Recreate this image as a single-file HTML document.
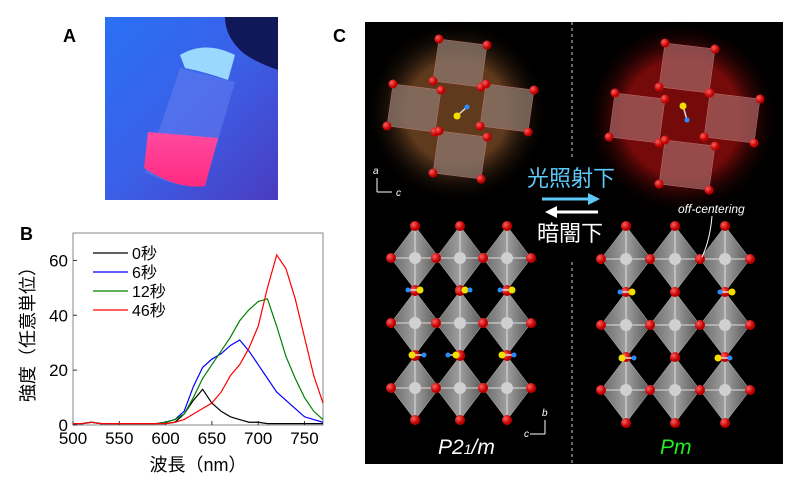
<!DOCTYPE html>
<html><head><meta charset="utf-8"><style>
body{margin:0;background:#fff;width:800px;height:491px;overflow:hidden;font-family:"Liberation Sans","Noto Sans CJK JP",sans-serif}
svg{position:absolute;left:0;top:0}
</style></head><body>
<svg width="800" height="491" viewBox="0 0 800 491">
<defs>
<linearGradient id="bg" x1="0" y1="0" x2="1" y2="1"><stop offset="0" stop-color="#2a70f5"/><stop offset="0.5" stop-color="#3a60e8"/><stop offset="1" stop-color="#4a3cc0"/></linearGradient>
<linearGradient id="liq" x1="0" y1="0" x2="0" y2="1"><stop offset="0" stop-color="#ff4aa0"/><stop offset="1" stop-color="#ff2a80"/></linearGradient>
<radialGradient id="glowO"><stop offset="0.55" stop-color="#6a4020" stop-opacity="0.9"/><stop offset="1" stop-color="#000" stop-opacity="0"/></radialGradient>
<radialGradient id="glowR"><stop offset="0.6" stop-color="#7a0a0a" stop-opacity="0.95"/><stop offset="1" stop-color="#000" stop-opacity="0"/></radialGradient>
<radialGradient id="ball" cx="0.35" cy="0.35"><stop offset="0" stop-color="#ff6060"/><stop offset="1" stop-color="#c00000"/></radialGradient>
<linearGradient id="octg" x1="0" y1="0" x2="1" y2="0"><stop offset="0" stop-color="#6e6e6e"/><stop offset="0.5" stop-color="#a8a8a8"/><stop offset="1" stop-color="#5a5a5a"/></linearGradient>
</defs>

<!-- Panel A -->
<text x="63" y="42" font-size="18" font-weight="bold">A</text>
<g>
<rect x="105" y="17" width="173" height="183" fill="url(#bg)"/>
<path d="M225 17 L278 17 L278 70 Q250 60 240 50 Q225 35 225 17Z" fill="#10185a"/>
<path d="M180 55 Q205 40 235 55 L228 80 Q205 72 185 68Z" fill="#9ad8ff"/>
<path d="M180 68 L235 82 L205 185 Q180 190 145 172 Z" fill="#6a80f0" opacity="0.5"/>
<path d="M148 132 L218 138 L205 186 Q178 190 144 168 Z" fill="url(#liq)"/>
</g>

<!-- Panel B -->
<text x="20" y="240" font-size="18" font-weight="bold">B</text>
<g id="chart"></g>

<!-- Panel C -->
<text x="333" y="42" font-size="18" font-weight="bold">C</text>
<rect x="365" y="22" width="418" height="442" fill="#000"/>
<line x1="572" y1="22" x2="572" y2="160" stroke="#ccc" stroke-dasharray="3,3"/>
<line x1="572" y1="262" x2="572" y2="464" stroke="#ccc" stroke-dasharray="3,3"/>
<circle cx="457" cy="112" r="92" fill="url(#glowO)"/>
<circle cx="682" cy="118" r="98" fill="url(#glowR)"/>
<g id="struct"></g>
<text x="527" y="186" font-size="22" fill="#5ec8f8">光照射下</text>
<path d="M542 199 L590 199" stroke="#5ec8f8" stroke-width="3"/><path d="M588 193 L600 199 L588 205Z" fill="#5ec8f8"/>
<path d="M555 212 L598 212" stroke="#fff" stroke-width="3"/><path d="M557 206 L545 212 L557 218Z" fill="#fff"/>
<text x="537" y="241" font-size="22" fill="#fff">暗闇下</text>
<text x="678" y="213" font-size="12" font-style="italic" fill="#fff">off-centering</text>
<path d="M712 216 Q710 240 702 257" stroke="#fff" fill="none"/>
<text x="438" y="454" font-size="21" font-style="italic" fill="#fff">P2<tspan font-size="14">1</tspan>/m</text>
<text x="660" y="454" font-size="21" font-style="italic" fill="#22ee22">Pm</text>
<g fill="#fff" font-size="10" font-style="italic">
<text x="373" y="174">a</text><text x="396" y="196">c</text><path d="M377 192 L377 178 M377 192 L392 192" stroke="#fff"/>
<text x="542" y="416">b</text><text x="524" y="437">c</text><path d="M545 434 L545 420 M545 434 L530 434" stroke="#fff"/>
</g>
</svg>
<script>
const wavelengths=[500,510,520,530,540,550,560,570,580,590,600,610,620,630,640,650,660,670,680,690,700,710,720,730,740,750,760,770];
const s0=[0.5,0.5,1,0.5,0.5,0.5,0.5,0.5,0.5,0.5,0.5,1,4,9,13,8,5,3,2,1,1,0.5,0.5,0.5,0.5,0.5,0.5,0.5];
const s6=[0.5,0.5,1,0.5,0.5,0.5,0.5,0.5,0.5,0.5,1,2,5,14,21,24,26,29,31,27,22,17,12,9,6,3,2,1];
const s12=[0.5,0.5,1,0.5,0.5,0.5,0.5,0.5,0.5,0.5,1,2,4,10,17,22,27,32,38,42,45,46,36,25,17,10,5,2];
const s46=[0.5,0.5,1,0.5,0.5,0.5,0.5,0.5,0.5,0.5,0.5,1,2,4,6,8,12,18,22,28,36,50,62,57,46,32,18,8];
const xTicks=[500,550,600,650,700,750];
const yTicks=[0,20,40,60];
const seriesNames=["0秒","6秒","12秒","46秒"];
const colors=["#000","#0000ff","#008000","#ff0000"];
const NS="http://www.w3.org/2000/svg";
const L=73,R=323,T=233,B=425;
const xs=v=>L+(v-500)/(770-500)*(R-L);
const ys=v=>B-v/70*(B-T);
const g=document.getElementById('chart');
function mk(tag,at,parent){const e=document.createElementNS(NS,tag);for(const k in at)e.setAttribute(k,at[k]);(parent||g).appendChild(e);return e;}
const frame=mk('rect',{x:L,y:T,width:R-L,height:B-T,fill:'none',stroke:'#888'});


xTicks.forEach(t=>{
 mk('line',{x1:xs(t),y1:B,x2:xs(t),y2:B-4,stroke:'#333'});
 const tx=mk('text',{x:xs(t),y:B+19,'font-size':17,'text-anchor':'middle'});tx.textContent=t;
 
 
});
yTicks.forEach(t=>{
 mk('line',{x1:L,y1:ys(t),x2:L+4,y2:ys(t),stroke:'#333'});
 const tx=mk('text',{x:L-5,y:ys(t)+6,'font-size':17,'text-anchor':'end'});tx.textContent=t;
 
 
});
const xt=mk('text',{x:198,y:471,'font-size':18,'text-anchor':'middle'});xt.textContent='波長（nm）';


const yt=mk('text',{x:0,y:0,'font-size':18,'text-anchor':'middle',transform:'translate(34,330) rotate(-90)'});yt.textContent='強度（任意単位）';


[s0,s6,s12,s46].forEach((s,i)=>{
 const pl=mk('polyline',{points:s.map((v,j)=>xs(wavelengths[j])+','+ys(v)).join(' '),fill:'none',stroke:colors[i],'stroke-width':1.2});
 
 
 const ly=253+i*19;
 mk('line',{x1:93,y1:ly,x2:128,y2:ly,stroke:colors[i],'stroke-width':1.2});
 const lt=mk('text',{x:132,y:ly+6,'font-size':16});lt.textContent=seriesNames[i];
 
 
});
// structures
const sg=document.getElementById('struct');
function oct(cx,cy,w,h){
 mk('polygon',{points:`${cx},${cy-h} ${cx+w},${cy} ${cx},${cy+h} ${cx-w},${cy}`,fill:'url(#octg)',stroke:'#ccc','stroke-width':0.5,opacity:0.95},sg);
 mk('line',{x1:cx,y1:cy-h,x2:cx,y2:cy+h,stroke:'#ddd','stroke-width':1},sg);
 mk('line',{x1:cx-w,y1:cy,x2:cx+w,y2:cy,stroke:'#ddd','stroke-width':1},sg);
 mk('circle',{cx:cx,cy:cy,r:6,fill:'#d0d0d0'},sg);
 [[0,-h],[w,0],[0,h],[-w,0]].forEach(d=>mk('circle',{cx:cx+d[0],cy:cy+d[1],r:5,fill:'url(#ball)'},sg));
}
[415,460,507].forEach(x=>[258,323,388].forEach(y=>oct(x,y,24,32)));
[626,675,725].forEach(x=>[259,325,390].forEach(y=>oct(x,y,25,33)));
function mol(x1,y1,x2,y2){
 mk('line',{x1:x1,y1:y1,x2:x2,y2:y2,stroke:'#ddd','stroke-width':1.5},sg);
 mk('circle',{cx:x1,cy:y1,r:3.5,fill:'#f0e000'},sg);
 mk('circle',{cx:x2,cy:y2,r:2.5,fill:'#2a8cff'},sg);
}
[[420,290,408,290],[465,290,470,290],[512,290,500,290],[412,355,424,355],[456,355,448,355],[502,355,514,355]].forEach(m=>mol(m[0],m[1],m[2],m[3]));
[[632,292,620,292],[732,292,720,292],[622,358,634,358],[718,358,730,358]].forEach(m=>mol(m[0],m[1],m[2],m[3]));
function sq(cx,cy,h,fill){
 mk('polygon',{points:`${cx-h},${cy-h} ${cx+h},${cy-h+6} ${cx+h-6},${cy+h} ${cx-h-6},${cy+h-6}`,fill:fill,stroke:'#d88','stroke-width':0.5,opacity:0.8},sg);
 [[-h,-h],[h,-h+6],[h-6,h],[-h-6,h-6]].forEach(d=>mk('circle',{cx:cx+d[0],cy:cy+d[1],r:4.5,fill:'url(#ball)'},sg));
}
[[463,63],[417,108],[510,108],[463,155]].forEach(c=>sq(c[0],c[1],24,'#8a7468'));
[[690,68],[640,118],[735,118],[690,165]].forEach(c=>sq(c[0],c[1],25,'#a05a5a'));
mol(457,116,467,107);
mol(683,106,687,120);
</script>
</body></html>
